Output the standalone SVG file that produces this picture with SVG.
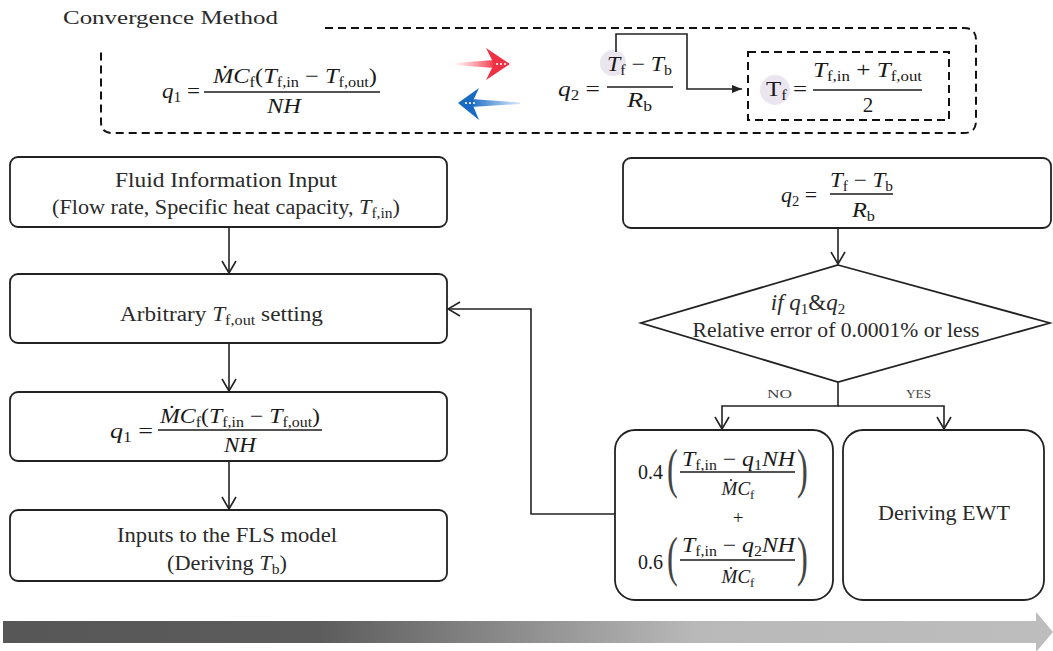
<svg xmlns="http://www.w3.org/2000/svg" width="1053" height="651" viewBox="0 0 1053 651">
<style>
.t{font-family:"Liberation Serif","Times New Roman",serif;fill:#2a2a2a;font-size:20px}
.m{font-family:"Liberation Serif","Times New Roman",serif;fill:#1a1a1a;font-size:21px}
.d{font-family:"Liberation Serif","Times New Roman",serif;fill:#1a1a1a;font-size:19px}
.i{font-style:italic}
.s{font-size:14px;font-style:normal}
.p{font-family:"Liberation Serif","Times New Roman",serif;fill:#444;font-size:54px}
.box{fill:#fff;stroke:#222;stroke-width:1.8}
.dash{fill:none;stroke:#111;stroke-width:2;stroke-dasharray:8 5}
.fl{stroke:#1a1a1a;stroke-width:1.3}
.conn{fill:none;stroke:#222;stroke-width:1.6}
.lbl{font-family:"Liberation Serif","Times New Roman",serif;fill:#444;font-size:13px}
</style>
<defs>
<marker id="open" viewBox="0 0 16 16" refX="15" refY="8" markerWidth="16" markerHeight="16" markerUnits="userSpaceOnUse" orient="auto">
<path d="M3,1 L15,8 L3,15" fill="none" stroke="#222" stroke-width="1.6"/>
</marker>
<marker id="fill" viewBox="0 0 10 8" refX="10" refY="4" markerWidth="10" markerHeight="8" markerUnits="userSpaceOnUse" orient="auto">
<path d="M0,0 L10,4 L0,8 z" fill="#222"/>
</marker>
<linearGradient id="bar" x1="0" y1="0" x2="1" y2="0">
<stop offset="0" stop-color="#575757"/>
<stop offset="0.3" stop-color="#5c5c5c"/>
<stop offset="0.66" stop-color="#b9b9b9"/>
<stop offset="1" stop-color="#bdbdbd"/>
</linearGradient>
<linearGradient id="redTail" x1="0" y1="0" x2="1" y2="0">
<stop offset="0" stop-color="#ff6b75" stop-opacity="0"/>
<stop offset="1" stop-color="#ef3345" stop-opacity="1"/>
</linearGradient>
<linearGradient id="blueTail" x1="0" y1="0" x2="1" y2="0">
<stop offset="0" stop-color="#1b6cc4" stop-opacity="1"/>
<stop offset="1" stop-color="#2f80d6" stop-opacity="0.2"/>
</linearGradient>
</defs>

<!-- Convergence method panel -->
<g id="convergence-panel">
<text class="t" x="63" y="24" style="font-size:19px" textLength="215" lengthAdjust="spacingAndGlyphs">Convergence Method</text>
<path class="dash" d="M325,28 H964 Q976,28 976,40 V121 Q976,133 964,133 H112 Q101,133 101,122 V50"/>
</g>

<g id="top-q1">
<text class="m" x="162" y="98" textLength="38" lengthAdjust="spacingAndGlyphs"><tspan class="i">q</tspan><tspan class="s" dy="4">1</tspan><tspan dy="-4"> =</tspan></text>
<text class="m" x="295" y="83" text-anchor="middle" textLength="164" lengthAdjust="spacingAndGlyphs"><tspan class="i">ṀC</tspan><tspan class="s" dy="4">f</tspan><tspan dy="-4">(</tspan><tspan class="i">T</tspan><tspan class="s" dy="4">f,in</tspan><tspan dy="-4"> − </tspan><tspan class="i">T</tspan><tspan class="s" dy="4">f,out</tspan><tspan dy="-4">)</tspan></text>
<line class="fl" x1="204" y1="92" x2="380" y2="92"/>
<text class="m i" x="284" y="113" text-anchor="middle" textLength="34" lengthAdjust="spacingAndGlyphs">NH</text>
</g>

<g id="direction-arrows">
<polygon points="453,63 495,60 495,68 453,65" fill="url(#redTail)"/>
<polygon points="486,48 510,64 486,80 494,64" fill="#ee3145"/>
<circle cx="497" cy="64" r="1.1" fill="#fff"/><circle cx="501" cy="64" r="1.1" fill="#fff"/><circle cx="505" cy="64" r="1.1" fill="#fff"/>
<polygon points="471,99 520,102.5 520,104 471,107" fill="url(#blueTail)"/>
<polygon points="479,88 458,103 479,120 472,103" fill="#1a69c2"/>
<circle cx="466" cy="103" r="1.1" fill="#fff"/><circle cx="470" cy="103" r="1.1" fill="#fff"/><circle cx="474" cy="103" r="1.1" fill="#fff"/>
</g>

<g id="top-q2">
<circle cx="613" cy="63" r="13" fill="#ebe5f0"/>
<text class="m" x="558" y="96" textLength="42" lengthAdjust="spacingAndGlyphs"><tspan class="i">q</tspan><tspan class="s" dy="4">2</tspan><tspan dy="-4"> =</tspan></text>
<text class="m" x="607" y="71" textLength="65" lengthAdjust="spacingAndGlyphs"><tspan class="i">T</tspan><tspan class="s" dy="4">f</tspan><tspan dy="-4"> − </tspan><tspan class="i">T</tspan><tspan class="s" dy="4">b</tspan></text>
<line class="fl" x1="607" y1="87" x2="673" y2="87"/>
<text class="m" x="627" y="107" textLength="25" lengthAdjust="spacingAndGlyphs"><tspan class="i">R</tspan><tspan class="s" dy="4">b</tspan></text>
</g>

<g id="tf-box">
<rect class="dash" x="748" y="52" width="201" height="68"/>
<circle cx="775" cy="90" r="15" fill="#ebe5f0"/>
<text class="m" x="766" y="96" textLength="41" lengthAdjust="spacingAndGlyphs">T<tspan class="s" dy="4">f</tspan><tspan dy="-4"> =</tspan></text>
<text class="m" x="813" y="77" textLength="109" lengthAdjust="spacingAndGlyphs"><tspan class="i">T</tspan><tspan class="s" dy="4">f,in</tspan><tspan dy="-4"> + </tspan><tspan class="i">T</tspan><tspan class="s" dy="4">f,out</tspan></text>
<line class="fl" x1="813" y1="90" x2="922" y2="90"/>
<text class="m" x="868" y="112" text-anchor="middle">2</text>
</g>

<!-- Left column -->
<g id="fluid-input">
<rect class="box" x="10" y="157" width="437" height="70" rx="8"/>
<text class="t" x="226" y="187" text-anchor="middle" textLength="222" lengthAdjust="spacingAndGlyphs">Fluid Information Input</text>
<text class="t" x="52" y="214" textLength="348" lengthAdjust="spacingAndGlyphs">(Flow rate, Specific heat capacity, <tspan class="i">T</tspan><tspan class="s" dy="4">f,in</tspan><tspan dy="-4">)</tspan></text>
</g>

<g id="arbitrary-setting">
<rect class="box" x="10" y="274" width="437" height="69" rx="8"/>
<text class="t" x="120" y="321" textLength="203" lengthAdjust="spacingAndGlyphs">Arbitrary <tspan class="i">T</tspan><tspan class="s" dy="4">f,out</tspan><tspan dy="-4"> setting</tspan></text>
</g>

<g id="q1-box">
<rect class="box" x="10" y="392" width="437" height="69" rx="8"/>
<text class="m" x="110" y="438" textLength="43" lengthAdjust="spacingAndGlyphs"><tspan class="i">q</tspan><tspan class="s" dy="4">1</tspan><tspan dy="-4"> =</tspan></text>
<text class="m" x="240" y="423" text-anchor="middle" textLength="160" lengthAdjust="spacingAndGlyphs"><tspan class="i">ṀC</tspan><tspan class="s" dy="4">f</tspan><tspan dy="-4">(</tspan><tspan class="i">T</tspan><tspan class="s" dy="4">f,in</tspan><tspan dy="-4"> − </tspan><tspan class="i">T</tspan><tspan class="s" dy="4">f,out</tspan><tspan dy="-4">)</tspan></text>
<line class="fl" x1="158" y1="430" x2="322" y2="430"/>
<text class="m i" x="240" y="452" text-anchor="middle" textLength="32" lengthAdjust="spacingAndGlyphs">NH</text>
</g>

<g id="fls-model">
<rect class="box" x="10" y="510" width="437" height="71" rx="8"/>
<text class="t" x="227" y="542" text-anchor="middle" textLength="220" lengthAdjust="spacingAndGlyphs">Inputs to the FLS model</text>
<text class="t" x="167" y="570" textLength="120" lengthAdjust="spacingAndGlyphs">(Deriving <tspan class="i">T</tspan><tspan class="s" dy="4">b</tspan><tspan dy="-4">)</tspan></text>
</g>

<!-- Right column -->
<g id="q2-box">
<rect class="box" x="623" y="158" width="428" height="70" rx="8"/>
<text class="m" x="781" y="202" textLength="36" lengthAdjust="spacingAndGlyphs"><tspan class="i">q</tspan><tspan class="s" dy="4">2</tspan><tspan dy="-4"> =</tspan></text>
<text class="m" x="830" y="187" textLength="63" lengthAdjust="spacingAndGlyphs"><tspan class="i">T</tspan><tspan class="s" dy="4">f</tspan><tspan dy="-4"> − </tspan><tspan class="i">T</tspan><tspan class="s" dy="4">b</tspan></text>
<line class="fl" x1="830" y1="194" x2="893" y2="194"/>
<text class="m" x="852" y="217" textLength="23" lengthAdjust="spacingAndGlyphs"><tspan class="i">R</tspan><tspan class="s" dy="4">b</tspan></text>
</g>

<g id="decision">
<polygon class="box" points="838,265 1050,323 838,382 641,323"/>
<text class="t" x="808" y="310" text-anchor="middle" style="font-size:23px"><tspan class="i">if q</tspan><tspan class="s" dy="4" style="font-size:15px">1</tspan><tspan dy="-4">&amp;</tspan><tspan class="i">q</tspan><tspan class="s" dy="4" style="font-size:15px">2</tspan></text>
<text class="t" x="836" y="337" text-anchor="middle" textLength="287" lengthAdjust="spacingAndGlyphs">Relative error of 0.0001% or less</text>
</g>

<g id="update-box">
<rect class="box" x="615" y="430" width="218" height="170" rx="20"/>
<text class="m" x="638" y="479" textLength="25" lengthAdjust="spacingAndGlyphs">0.4</text>
<text class="p" transform="translate(667,487) scale(0.6,1)">(</text>
<text class="m" x="682" y="466" textLength="113" lengthAdjust="spacingAndGlyphs"><tspan class="i">T</tspan><tspan class="s" dy="4">f,in</tspan><tspan dy="-4"> − </tspan><tspan class="i">q</tspan><tspan class="s" dy="4">1</tspan><tspan class="i" dy="-4">NH</tspan></text>
<line class="fl" x1="680" y1="472" x2="795" y2="472"/>
<text class="d" x="738" y="495" text-anchor="middle"><tspan class="i">ṀC</tspan><tspan class="s" dy="4" style="font-size:13px">f</tspan></text>
<text class="p" transform="translate(797,487) scale(0.6,1)">)</text>
<text class="m" x="738" y="524" text-anchor="middle" style="font-size:19px">+</text>
<text class="m" x="638" y="569" textLength="25" lengthAdjust="spacingAndGlyphs">0.6</text>
<text class="p" transform="translate(667,575) scale(0.6,1)">(</text>
<text class="m" x="682" y="552" textLength="113" lengthAdjust="spacingAndGlyphs"><tspan class="i">T</tspan><tspan class="s" dy="4">f,in</tspan><tspan dy="-4"> − </tspan><tspan class="i">q</tspan><tspan class="s" dy="4">2</tspan><tspan class="i" dy="-4">NH</tspan></text>
<line class="fl" x1="680" y1="560" x2="795" y2="560"/>
<text class="d" x="738" y="583" text-anchor="middle"><tspan class="i">ṀC</tspan><tspan class="s" dy="4" style="font-size:13px">f</tspan></text>
<text class="p" transform="translate(797,575) scale(0.6,1)">)</text>
</g>

<g id="deriving-ewt">
<rect class="box" x="843" y="430" width="201" height="170" rx="20"/>
<text class="t" x="944" y="520" text-anchor="middle" textLength="132" lengthAdjust="spacingAndGlyphs">Deriving EWT</text>
</g>

<!-- Connectors -->
<g id="connectors">
<path class="conn" d="M616,52 V34 H687 V89 H742" marker-end="url(#fill)"/>
<line class="conn" x1="229" y1="227" x2="229" y2="273" marker-end="url(#open)"/>
<line class="conn" x1="229" y1="343" x2="229" y2="391" marker-end="url(#open)"/>
<line class="conn" x1="229" y1="461" x2="229" y2="509" marker-end="url(#open)"/>
<line class="conn" x1="838" y1="228" x2="838" y2="264" marker-end="url(#open)"/>
<path class="conn" d="M838,382 V406 H722 V429" marker-end="url(#open)"/>
<path class="conn" d="M838,406 H944 V429" marker-end="url(#open)"/>
<path class="conn" d="M615,514 H531 V309 H448" marker-end="url(#open)"/>
<text class="lbl" x="767" y="398" textLength="25" lengthAdjust="spacingAndGlyphs">NO</text>
<text class="lbl" x="906" y="398" textLength="25" lengthAdjust="spacingAndGlyphs">YES</text>
</g>

<!-- Progress bar -->
<g id="progress-arrow">
<polygon points="3,621 1036,621 1036,612 1053,632 1036,652 1036,643 3,643" fill="url(#bar)"/>
</g>
</svg>
